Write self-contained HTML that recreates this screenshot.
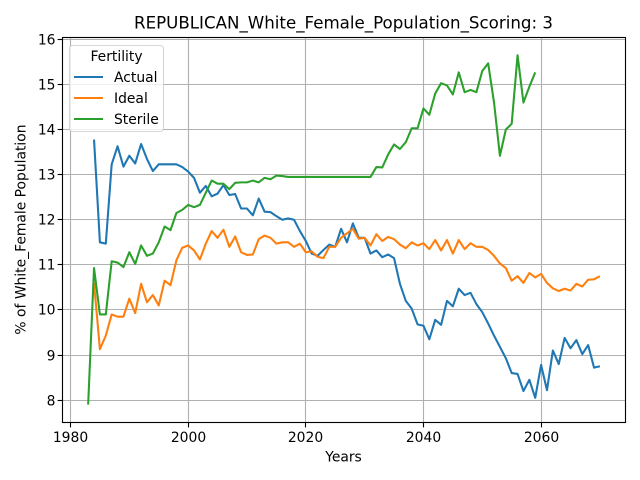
<!DOCTYPE html>
<html>
<head>
<meta charset="utf-8">
<style>
html,body{margin:0;padding:0;background:#fff;}
svg{display:block;}
text{font-family:"DejaVu Sans","Liberation Sans",sans-serif;fill:#000;}
</style>
</head>
<body>
<svg id="chart" xmlns="http://www.w3.org/2000/svg" width="640" height="480" viewBox="0 0 640 480">
  <rect x="62.5" y="37.5" width="563" height="385" fill="#fff"/>
  <g id="grid"></g>
  <g id="series"></g>
  <g id="spines" fill="none" stroke="#000" stroke-width="1.11">
    <rect x="62.5" y="37.5" width="563" height="385"/>
  </g>
  <g id="xticks"></g>
  <g id="yticks"></g>
  <text x="343.5" y="28.5" font-size="16.67" text-anchor="middle">REPUBLICAN_White_Female_Population_Scoring: 3</text>
  <text x="343.5" y="461.7" font-size="13.89" text-anchor="middle">Years</text>
  <text x="0" y="0" font-size="13.89" text-anchor="middle" transform="translate(25.5,229.5) rotate(-90)">% of White_Female Population</text>
  <g>
    <rect x="69.5" y="45.5" width="94" height="86" rx="3" ry="3" fill="#fff" fill-opacity="0.8" stroke="#ccc" stroke-opacity="0.8" stroke-width="1.11"/>
    <text x="116.5" y="61" font-size="13.89" text-anchor="middle">Fertility</text>
    <line x1="74" x2="103" y1="77" y2="77" stroke="#1f77b4" stroke-width="2.08"/>
    <text x="114" y="82" font-size="13.89">Actual</text>
    <line x1="74" x2="103" y1="98" y2="98" stroke="#ff7f0e" stroke-width="2.08"/>
    <text x="114" y="103" font-size="13.89">Ideal</text>
    <line x1="74" x2="103" y1="119" y2="119" stroke="#2ca02c" stroke-width="2.08"/>
    <text x="114" y="124" font-size="13.89">Sterile</text>
  </g>
</svg>
<script>
const xTickLabels = [1980, 2000, 2020, 2040, 2060];
const yTickLabels = [8, 9, 10, 11, 12, 13, 14, 15, 16];

const actualStartYear = 1984;
const actualValues = [
  13.78, 11.5, 11.47, 13.23, 13.63, 13.18,
  13.42, 13.25, 13.68, 13.35, 13.08, 13.23, 13.23, 13.23, 13.23, 13.17,
  13.07, 12.93, 12.6, 12.75, 12.52, 12.58, 12.77, 12.55, 12.57, 12.25,
  12.25, 12.1, 12.47, 12.18, 12.17, 12.08, 12.0, 12.03, 12.0, 11.75,
  11.53, 11.25, 11.2, 11.33, 11.45, 11.4, 11.8, 11.5, 11.92, 11.6,
  11.6, 11.25, 11.32, 11.17, 11.23, 11.15, 10.58, 10.2, 10.03, 9.68,
  9.65, 9.35, 9.78, 9.67, 10.2, 10.08, 10.47, 10.33, 10.38, 10.13,
  9.95, 9.7, 9.43, 9.18, 8.93, 8.6, 8.58, 8.2, 8.45, 8.05,
  8.78, 8.22, 9.1, 8.8, 9.38, 9.15, 9.33, 9.02, 9.22, 8.72,
  8.75
];

const idealStartYear = 1984;
const idealValues = [
  10.6, 9.13, 9.43, 9.9, 9.85, 9.85,
  10.25, 9.93, 10.58, 10.17, 10.33, 10.1, 10.65, 10.55, 11.1, 11.38,
  11.43, 11.32, 11.12, 11.47, 11.75, 11.6, 11.78, 11.4, 11.63, 11.28,
  11.22, 11.23, 11.57, 11.65, 11.6, 11.47, 11.5, 11.5, 11.4, 11.47,
  11.28, 11.3, 11.18, 11.15, 11.4, 11.4, 11.6, 11.7, 11.8, 11.58,
  11.6, 11.43, 11.68, 11.53, 11.62, 11.57, 11.45, 11.37, 11.5, 11.43,
  11.48, 11.35, 11.55, 11.32, 11.55, 11.25, 11.55, 11.35, 11.48, 11.4,
  11.4, 11.33, 11.2, 11.03, 10.93, 10.65, 10.75, 10.6, 10.82, 10.72,
  10.8, 10.6, 10.48, 10.42, 10.47, 10.43, 10.58, 10.52, 10.67, 10.68,
  10.75
];

const sterileStartYear = 1983;
const sterileValues = [
  7.9, 10.93, 9.9, 9.9, 11.08, 11.05, 10.95,
  11.28, 11.02, 11.43, 11.2, 11.25, 11.5, 11.85, 11.77, 12.15, 12.22,
  12.33, 12.28, 12.33, 12.6, 12.87, 12.8, 12.8, 12.68, 12.82, 12.83,
  12.83, 12.87, 12.83, 12.93, 12.9, 12.98, 12.97, 12.95, 12.95, 12.95,
  12.95, 12.95, 12.95, 12.95, 12.95, 12.95, 12.95, 12.95, 12.95, 12.95,
  12.95, 12.95, 13.17, 13.16, 13.45, 13.67, 13.57, 13.72, 14.03, 14.03,
  14.47, 14.33, 14.8, 15.03, 14.98, 14.78, 15.27, 14.83, 14.88, 14.83,
  15.3, 15.47, 14.6, 13.42, 14.0, 14.13, 15.65, 14.6, 14.95, 15.27
];

const NS = 'http://www.w3.org/2000/svg';
function xScale(year) { return 70.5 + (year - 1980) * 5.8825; }
function yScale(v) { return 400.1 - (v - 8) * 45.08; }

const gridG = document.getElementById('grid');
const xTickG = document.getElementById('xticks');
const yTickG = document.getElementById('yticks');
const seriesG = document.getElementById('series');

function makeLine(x1, y1, x2, y2, stroke, width) {
  const l = document.createElementNS(NS, 'line');
  l.setAttribute('x1', x1);
  l.setAttribute('y1', y1);
  l.setAttribute('x2', x2);
  l.setAttribute('y2', y2);
  l.setAttribute('stroke', stroke);
  l.setAttribute('stroke-width', width);
  return l;
}
function snap(p) { return Math.floor(p) + 0.5; }

xTickLabels.forEach(function (t) {
  const px = snap(xScale(t));
  const g = makeLine(px, 37.5, px, 422.5, '#b0b0b0', 1.11);
  
  
  gridG.appendChild(g);
  const tick = makeLine(px, 422.5, px, 427.4, '#000', 1.11);
  
  
  xTickG.appendChild(tick);
  const label = document.createElementNS(NS, 'text');
  label.setAttribute('x', px);
  label.setAttribute('y', 442);
  label.setAttribute('font-size', '13.89');
  label.setAttribute('text-anchor', 'middle');
  label.textContent = String(t);
  
  
  xTickG.appendChild(label);
});

yTickLabels.forEach(function (t) {
  const py = snap(yScale(t));
  const g = makeLine(62.5, py, 625.5, py, '#b0b0b0', 1.11);
  
  
  gridG.appendChild(g);
  const tick = makeLine(57.6, py, 62.5, py, '#000', 1.11);
  
  
  yTickG.appendChild(tick);
  const label = document.createElementNS(NS, 'text');
  label.setAttribute('x', 55.5);
  label.setAttribute('y', py + 5);
  label.setAttribute('font-size', '13.89');
  label.setAttribute('text-anchor', 'end');
  label.textContent = String(t);
  
  
  yTickG.appendChild(label);
});

function drawSeries(startYear, values, color) {
  const pts = values.map(function (v, i) {
    return xScale(startYear + i).toFixed(2) + ',' + yScale(v).toFixed(2);
  });
  const p = document.createElementNS(NS, 'polyline');
  p.setAttribute('points', pts.join(' '));
  p.setAttribute('fill', 'none');
  p.setAttribute('stroke', color);
  p.setAttribute('stroke-width', '2.08');
  p.setAttribute('stroke-linejoin', 'round');
  p.setAttribute('stroke-linecap', 'butt');
  seriesG.appendChild(p);
  return p;
}

const actualLine = drawSeries(actualStartYear, actualValues, '#1f77b4');


const idealLine = drawSeries(idealStartYear, idealValues, '#ff7f0e');


const sterileLine = drawSeries(sterileStartYear, sterileValues, '#2ca02c');


</script>
</body>
</html>
